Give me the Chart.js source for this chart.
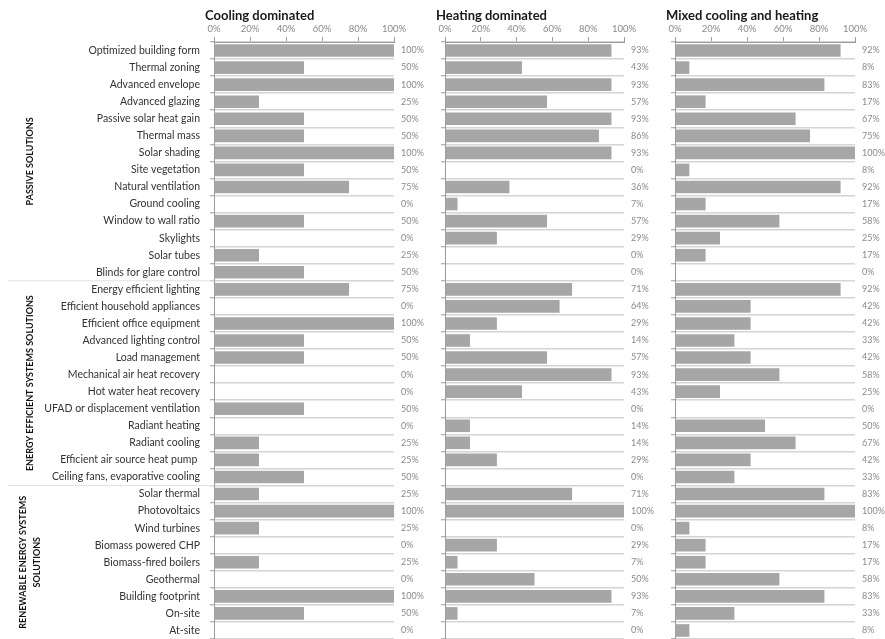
<!DOCTYPE html>
<html>
<head>
<meta charset="utf-8">
<script src="https://cdn.jsdelivr.net/npm/chart.js@4/dist/chart.umd.min.js"></script>
<style>
  html, body { margin: 0; padding: 0; background: #fff; }
  #wrap { position: relative; width: 885px; height: 639px; }
  .panel { position: absolute; top: 0; height: 639px; }
</style>
</head>
<body>
<div id="wrap">
  <div class="panel" style="left:0;width:430px"><canvas id="cooling"></canvas></div>
  <div class="panel" style="left:434px;width:226px"><canvas id="heating"></canvas></div>
  <div class="panel" style="left:664px;width:221px"><canvas id="mixed"></canvas></div>
</div>
<script>
const categories = [
  "Optimized building form", "Thermal zoning", "Advanced envelope", "Advanced glazing",
  "Passive solar heat gain", "Thermal mass", "Solar shading", "Site vegetation",
  "Natural ventilation", "Ground cooling", "Window to wall ratio", "Skylights",
  "Solar tubes", "Blinds for glare control",
  "Energy efficient lighting", "Efficient household appliances", "Efficient office equipment",
  "Advanced lighting control", "Load management", "Mechanical air heat recovery",
  "Hot water heat recovery", "UFAD or displacement ventilation", "Radiant heating",
  "Radiant cooling", "Efficient air source heat pump ", "Ceiling fans, evaporative cooling",
  "Solar thermal", "Photovoltaics", "Wind turbines", "Biomass powered CHP",
  "Biomass-fired boilers", "Geothermal", "Building footprint", "On-site", "At-site"
];

const coolingDominated = [
  100, 50, 100, 25, 50, 50, 100, 50, 75, 0, 50, 0, 25, 50,
  75, 0, 100, 50, 50, 0, 0, 50, 0, 25, 25, 50,
  25, 100, 25, 0, 25, 0, 100, 50, 0
];
const heatingDominated = [
  93, 43, 93, 57, 93, 86, 93, 0, 36, 7, 57, 29, 0, 0,
  71, 64, 29, 14, 57, 93, 43, 0, 14, 14, 29, 0,
  71, 100, 0, 29, 7, 50, 93, 7, 0
];
const mixedCoolingHeating = [
  92, 8, 83, 17, 67, 75, 100, 8, 92, 17, 58, 25, 17, 0,
  92, 42, 42, 33, 42, 58, 25, 0, 50, 67, 42, 33,
  83, 100, 8, 17, 17, 58, 83, 33, 8
];

// groups: [first index, last index, label lines]
const groups = [
  [0, 13, ["PASSIVE SOLUTIONS"]],
  [14, 25, ["ENERGY EFFICIENT SYSTEMS SOLUTIONS"]],
  [26, 34, ["RENEWABLE ENERGY SYSTEMS", "SOLUTIONS"]],
];

const xTicks = [0, 20, 40, 60, 80, 100];

const FONT = "Lato, 'DejaVu Sans', sans-serif";
const BAR = "#a6a6a6";
const GRID = "#d4d4d4";

// value labels to the right of each panel
const valueLabels = {
  id: "valueLabels",
  afterDatasetsDraw(chart) {
    const { ctx, chartArea, scales } = chart;
    const data = chart.data.datasets[0].data;
    ctx.save();
    ctx.font = "9px " + FONT;
    ctx.fillStyle = "#8a8a8a";
    ctx.textBaseline = "middle";
    ctx.textAlign = "left";
    data.forEach((v, i) => {
      ctx.fillText(v + "%", chartArea.right + 7, scales.y.getPixelForTick(i));
    });
    ctx.restore();
  },
};

// panel heading above the tick labels
const heading = {
  id: "heading",
  afterDraw(chart, args, opts) {
    const { ctx, chartArea } = chart;
    ctx.save();
    ctx.font = "bold 13px " + FONT;
    ctx.fillStyle = "#1a1a1a";
    ctx.textBaseline = "middle";
    ctx.fillText(opts.text, chartArea.left - 9, 16);
    ctx.restore();
  },
};

// rotated group names and separators on the far left
const groupLabels = {
  id: "groupLabels",
  afterDraw(chart) {
    const { ctx, chartArea, scales } = chart;
    const y = scales.y;
    ctx.save();
    ctx.strokeStyle = "#e2e2e2";
    ctx.lineWidth = 1;
    groups.forEach(([a, b, lines], gi) => {
      const top = a === 0 ? chartArea.top : (y.getPixelForTick(a - 1) + y.getPixelForTick(a)) / 2;
      const bottom = b === categories.length - 1 ? chartArea.bottom : (y.getPixelForTick(b) + y.getPixelForTick(b + 1)) / 2;
      if (gi > 0) {
        ctx.beginPath();
        ctx.moveTo(8, top);
        ctx.lineTo(chartArea.left, top);
        ctx.stroke();
      }
      const mid = (top + bottom) / 2;
      ctx.save();
      ctx.translate(30 - (lines.length - 1) * 7, mid);
      ctx.rotate(-Math.PI / 2);
      ctx.font = "bold 9px " + FONT;
      ctx.fillStyle = "#111";
      ctx.textAlign = "center";
      ctx.textBaseline = "middle";
      lines.forEach((t, li) => ctx.fillText(t, 0, li * 14));
      ctx.restore();
    });
    ctx.restore();
  },
};

function makePanel(id, title, values, opts) {
  const { axisWidth, showLabels, padRight } = opts;
  const plugins = [valueLabels, heading];
  if (showLabels) plugins.push(groupLabels);
  return new Chart(document.getElementById(id), {
    type: "bar",
    data: {
      labels: categories,
      datasets: [{
        data: values,
        backgroundColor: BAR,
        borderWidth: 0,
        barPercentage: 0.74,
        categoryPercentage: 1,
      }],
    },
    options: {
      indexAxis: "y",
      responsive: true,
      maintainAspectRatio: false,
      animation: false,
      layout: { padding: { top: 0, bottom: 0, left: 0, right: padRight } },
      plugins: {
        legend: { display: false },
        tooltip: { enabled: false },
        heading: { text: title },
      },
      scales: {
        x: {
          position: "top",
          min: 0,
          max: 100,
          afterBuildTicks: (scale) => { scale.ticks = xTicks.map((v) => ({ value: v })); },
          afterFit: (scale) => { scale.height = 42; },
          ticks: {
            callback: (v) => v + "%",
            font: { size: 9.5, family: FONT },
            color: "#8a8a8a",
            padding: 2,
            maxRotation: 0,
          },
          grid: { drawOnChartArea: false, tickLength: 5, color: "#9a9a9a" },
          border: { display: true, color: "#9a9a9a" },
        },
        y: {
          afterFit: (scale) => {
            scale.width = axisWidth;
            scale.paddingTop = 0;
            scale.paddingBottom = 0;
          },
          ticks: {
            display: showLabels,
            font: { size: 10.5, family: FONT },
            color: "#333",
            padding: 10,
            autoSkip: false,
          },
          grid: { color: GRID, lineWidth: 1.5, tickLength: 4, tickColor: "#9a9a9a", tickWidth: 1 },
          border: { display: true, color: "#9a9a9a", width: 1 },
        },
      },
    },
    plugins,
  });
}

makePanel("cooling", "Cooling dominated", coolingDominated, { axisWidth: 214, showLabels: true, padRight: 36 });
makePanel("heating", "Heating dominated", heatingDominated, { axisWidth: 11, showLabels: false, padRight: 36 });
makePanel("mixed", "Mixed cooling and heating", mixedCoolingHeating, { axisWidth: 11, showLabels: false, padRight: 30 });
</script>
</body>
</html>
